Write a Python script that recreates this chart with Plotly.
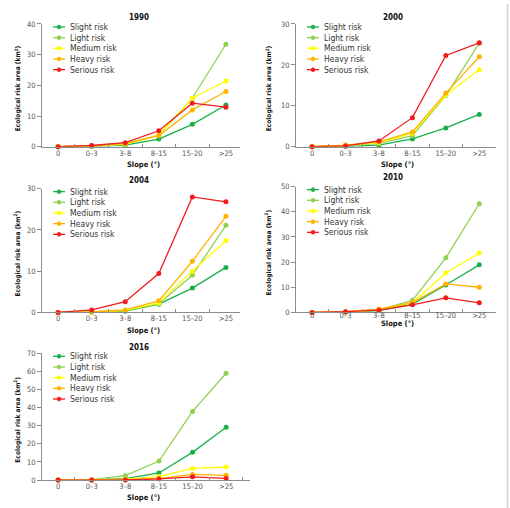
import plotly.graph_objects as go

# ---------------- data ----------------
slopes = ["0", "0–3", "3–8", "8–15", "15–20", ">25"]
series_names = ["Slight risk", "Light risk", "Medium risk", "Heavy risk", "Serious risk"]
series_colors = ["#19b04b", "#92d050", "#ffff00", "#ffb300", "#f21c1c"]

y1990_slight = [0, 0.1, 0.5, 2.5, 7.3, 13.6]
y1990_light = [0, 0.2, 1.0, 3.8, 15.8, 33.4]
y1990_medium = [0, 0.2, 0.8, 3.8, 15.8, 21.4]
y1990_heavy = [0, 0.3, 1.0, 3.6, 12.0, 18.0]
y1990_serious = [0, 0.4, 1.3, 5.2, 14.2, 12.9]

y2000_slight = [0, 0.1, 0.4, 1.9, 4.6, 7.9]
y2000_light = [0, 0.2, 0.8, 2.7, 12.5, 25.3]
y2000_medium = [0, 0.3, 1.0, 3.3, 12.7, 18.8]
y2000_heavy = [0, 0.4, 1.2, 3.6, 13.1, 22.0]
y2000_serious = [0, 0.2, 1.4, 7.1, 22.3, 25.4]

y2004_slight = [0, 0.05, 0.3, 2.0, 5.9, 10.9]
y2004_light = [0, 0.1, 0.4, 2.1, 9.0, 21.1]
y2004_medium = [0, 0.1, 0.5, 2.3, 10.0, 17.4]
y2004_heavy = [0, 0.1, 0.6, 2.8, 12.4, 23.3]
y2004_serious = [0, 0.6, 2.6, 9.4, 28.0, 26.8]

y2010_slight = [0, 0.1, 0.7, 3.3, 10.9, 18.9]
y2010_light = [0, 0.2, 1.0, 4.8, 21.7, 43.2]
y2010_medium = [0, 0.2, 0.9, 3.8, 15.7, 23.6]
y2010_heavy = [0, 0.3, 1.3, 3.9, 11.3, 10.0]
y2010_serious = [0, 0.3, 0.9, 3.0, 5.8, 3.8]

y2016_slight = [0, 0.1, 0.8, 3.9, 15.3, 29.2]
y2016_light = [0, 0.2, 2.4, 10.5, 37.9, 59.0]
y2016_medium = [0, 0.1, 0.5, 1.9, 6.4, 7.2]
y2016_heavy = [0, 0.0, 0.2, 0.8, 3.1, 2.6]
y2016_serious = [0, 0.0, 0.1, 0.6, 1.8, 0.9]

years = ["1990", "2000", "2004", "2010", "2016"]
year_series = [
    [y1990_slight, y1990_light, y1990_medium, y1990_heavy, y1990_serious],
    [y2000_slight, y2000_light, y2000_medium, y2000_heavy, y2000_serious],
    [y2004_slight, y2004_light, y2004_medium, y2004_heavy, y2004_serious],
    [y2010_slight, y2010_light, y2010_medium, y2010_heavy, y2010_serious],
    [y2016_slight, y2016_light, y2016_medium, y2016_heavy, y2016_serious],
]
y_max = [40, 30, 30, 50, 70]

# ---------------- layout (target pixels) ----------------
W = 510
H = 516                 # page height that is captured
SY = H / 508            # target px -> page px (vertical)
# left, right, top, bottom, x-range right end, title y, x-title y, y-title x, ticklabel standoff
boxes = [
    (42, 240, 20, 143, 5.42, 14, 161, 18, -1),
    (296, 496, 20, 143, 5.50, 14, 161, 269, -1),
    (42, 240, 185, 309, 5.42, 177, 327, 18, -1),
    (296, 496, 183, 309, 5.50, 174, 320, 269, -4),
    (42, 250, 350, 477, 5.71, 344, 494, 18, -1),
]

FONT = "Liberation Sans Narrow, DejaVu Sans Condensed, Roboto Condensed, Arial Narrow, sans-serif"


def fx(x):
    return x / W


def fy(y):
    return 1 - (y * SY) / H


fig = go.Figure()
layout = dict(
    width=W, height=H,
    margin=dict(l=0, r=0, t=0, b=0),
    paper_bgcolor="white", plot_bgcolor="white",
    showlegend=False,
    font=dict(family=FONT, size=8, color="#333"),
)
annotations = []
shapes = []

for k, (year, series, ymax, box) in enumerate(zip(years, year_series, y_max, boxes), start=1):
    L, R, T, B, xr, title_y, xt_y, yt_x, tls = box
    xa = "x" if k == 1 else f"x{k}"
    ya = "y" if k == 1 else f"y{k}"
    for name, vals, col in zip(series_names, series, series_colors):
        fig.add_trace(go.Scatter(
            x=slopes, y=vals, name=name, mode="lines+markers",
            line=dict(color=col, width=1.3),
            marker=dict(color=col, size=5),
            cliponaxis=False, showlegend=False,
            xaxis=xa, yaxis=ya,
        ))
    layout["xaxis" if k == 1 else f"xaxis{k}"] = dict(
        domain=[fx(L), fx(R)], anchor=ya, type="category",
        categoryorder="array", categoryarray=slopes,
        range=[-0.48, xr], showline=True, linecolor="#8c8c8c", linewidth=1,
        ticks="inside", tickson="boundaries", ticklen=3, tickcolor="#8c8c8c",
        ticklabelstandoff=tls,
        tickfont=dict(family=FONT, size=7.5, color="#555"),
        showgrid=False, zeroline=False, fixedrange=True,
    )
    layout["yaxis" if k == 1 else f"yaxis{k}"] = dict(
        domain=[fy(B), fy(T)], anchor=xa, range=[0, ymax], dtick=10,
        showline=True, linecolor="#8c8c8c", linewidth=1,
        ticks="outside", ticklen=4, tickcolor="#8c8c8c",
        tickfont=dict(family=FONT, size=7.5, color="#555"),
        showgrid=False, zeroline=False, fixedrange=True,
    )
    # panel title
    annotations.append(dict(
        text=year, x=fx(L + 97), y=fy(title_y), xref="paper", yref="paper",
        xanchor="center", yanchor="middle", showarrow=False,
        font=dict(family=FONT, size=8, color="#111", weight="bold"),
    ))
    # x-axis title
    annotations.append(dict(
        text="Slope (°)", x=fx(L + 101), y=fy(xt_y), xref="paper", yref="paper",
        xanchor="center", yanchor="middle", showarrow=False,
        font=dict(family=FONT, size=7.5, color="#111", weight="bold"),
    ))
    # y-axis title
    annotations.append(dict(
        text="Ecological risk area (km<sup>2</sup>)", x=fx(yt_x), y=fy((T + B) / 2 + 3),
        xref="paper", yref="paper", textangle=-90,
        xanchor="center", yanchor="middle", showarrow=False,
        font=dict(family=FONT, size=6.6, color="#111", weight="bold"),
    ))
    # legend
    for i, (name, col) in enumerate(zip(series_names, series_colors)):
        ry = T + 3 + i * 10.7
        shapes.append(dict(type="line", xref="paper", yref="paper",
                           x0=fx(L + 11), x1=fx(L + 23), y0=fy(ry), y1=fy(ry),
                           line=dict(color=col, width=1.3)))
        shapes.append(dict(type="circle", xref="paper", yref="paper",
                           x0=fx(L + 15), x1=fx(L + 19), y0=fy(ry - 2), y1=fy(ry + 2),
                           fillcolor=col, line=dict(color=col, width=0.5)))
        annotations.append(dict(
            text=name, x=fx(L + 26), y=fy(ry), xref="paper", yref="paper",
            xanchor="left", yanchor="middle", showarrow=False,
            font=dict(family=FONT, size=8.5, color="#333"),
        ))

# figure frame (right and bottom edges)
shapes.append(dict(type="line", xref="paper", yref="paper",
                   x0=fx(507.5), x1=fx(507.5), y0=fy(0), y1=fy(506.5),
                   line=dict(color="#cfcfcf", width=1.5)))
shapes.append(dict(type="line", xref="paper", yref="paper",
                   x0=fx(0), x1=fx(507.5), y0=fy(506.5), y1=fy(506.5),
                   line=dict(color="#cfcfcf", width=1.5)))

layout["annotations"] = annotations
layout["shapes"] = shapes
fig.update_layout(**layout)
fig.write_html(
    "out.html",
    config={"displayModeBar": False},
    post_script="document.body.style.margin='0';",
)
